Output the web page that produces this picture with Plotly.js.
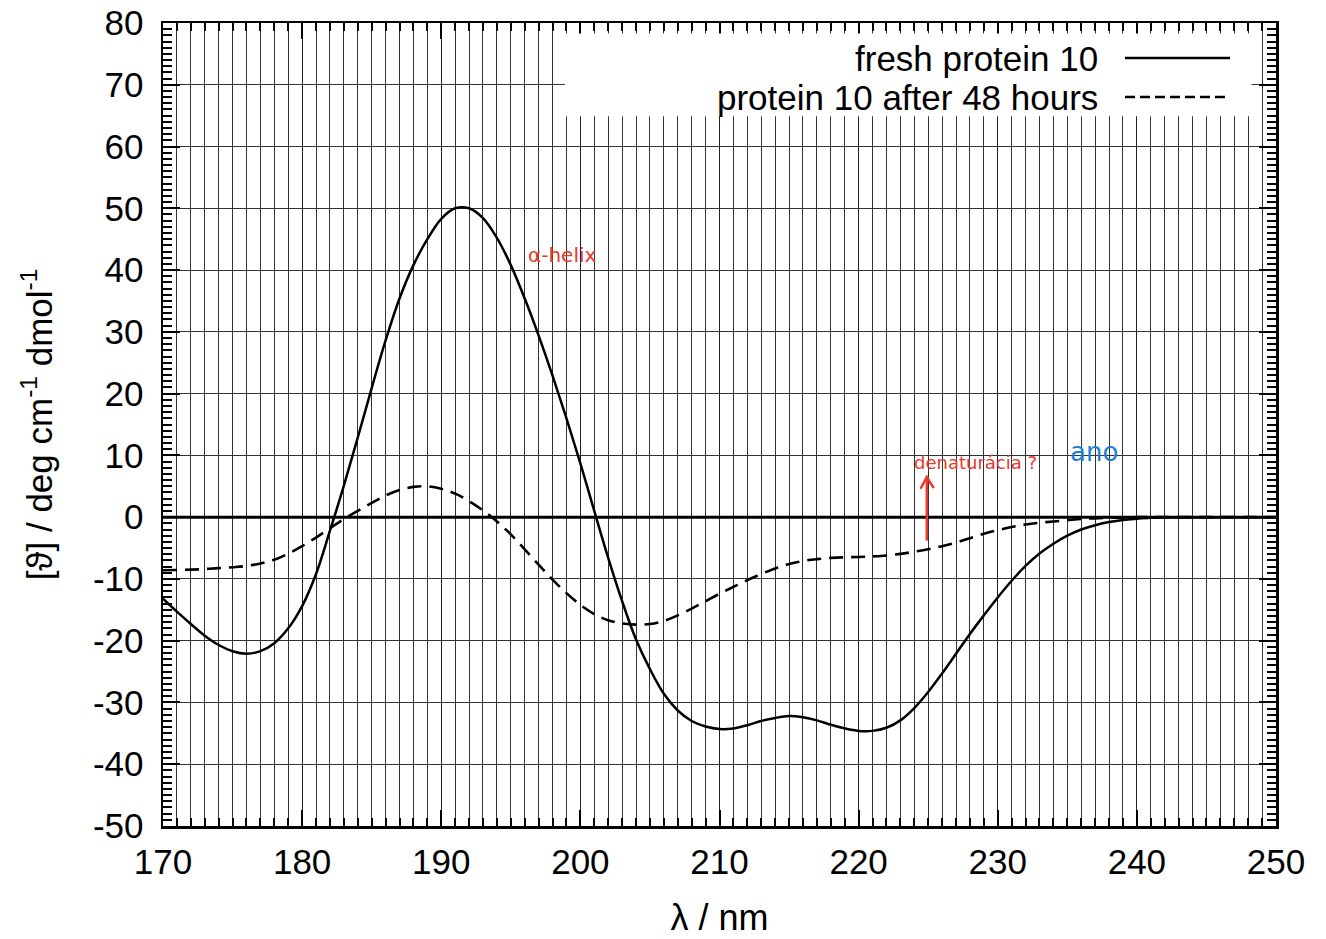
<!DOCTYPE html>
<html>
<head>
<meta charset="utf-8">
<script src="https://cdn.plot.ly/plotly-3.0.1.min.js"></script>
<style>html,body{margin:0;padding:0;background:#fff;}#chart{width:1326px;height:939px;}</style>
</head>
<body>
<div id="chart"></div>
<script>
// wavelength (nm)
const wavelength = [170,171,172,173,174,175,176,177,178,179,180,181,182,183,184,185,186,187,188,189,190,191,192,193,194,195,196,197,198,199,200,201,202,203,204,205,206,207,208,209,210,211,212,213,214,215,216,217,218,219,220,221,222,223,224,225,226,227,228,229,230,231,232,233,234,235,236,237,238,239,240,241,242,243,244,245,246,247,248,249,250];
// fresh protein 10
const freshProtein = [-13.2,-15.3,-17.3,-19.2,-20.7,-21.7,-22.1,-21.7,-20.4,-18.0,-14.4,-9.2,-2.2,5.1,12.9,20.9,28.6,35.4,40.8,45.0,48.3,50.0,50.0,48.4,45.2,40.8,35.4,29.4,22.9,16.0,8.7,1.0,-6.6,-13.6,-19.8,-24.6,-28.6,-31.3,-33.0,-33.9,-34.3,-34.2,-33.7,-33.0,-32.5,-32.2,-32.4,-32.9,-33.6,-34.2,-34.6,-34.6,-34.1,-32.9,-30.9,-28.3,-25.3,-22.1,-18.9,-15.9,-13.0,-10.3,-7.9,-5.9,-4.3,-3.0,-2.0,-1.3,-0.8,-0.45,-0.25,-0.1,-0.05,0,0,0,0,0,0,0,0];
// protein 10 after 48 hours
const agedProtein = [-8.6,-8.55,-8.5,-8.4,-8.25,-8.1,-7.9,-7.5,-6.9,-5.9,-4.7,-3.3,-1.8,-0.3,1.0,2.3,3.5,4.4,4.9,5.0,4.6,3.8,2.6,1.1,-0.7,-2.8,-5.2,-7.7,-10.1,-12.3,-14.2,-15.7,-16.7,-17.2,-17.4,-17.3,-16.8,-15.9,-14.8,-13.6,-12.4,-11.3,-10.2,-9.2,-8.3,-7.6,-7.1,-6.8,-6.6,-6.5,-6.45,-6.35,-6.2,-5.95,-5.6,-5.2,-4.7,-4.1,-3.4,-2.7,-2.1,-1.6,-1.2,-0.9,-0.7,-0.5,-0.3,-0.2,-0.1,-0.05,0,0,0,0,0,0,0,0,0,0,0];

const seriesNames = ["fresh protein 10", "protein 10 after 48 hours"];
const xTickVals = [170,180,190,200,210,220,230,240,250];
const yTickVals = [-50,-40,-30,-20,-10,0,10,20,30,40,50,60,70,80];

const FONT = "Liberation Sans, Arial, Helvetica, sans-serif";
const FS = 35;

const traces = [
  {x: wavelength, y: freshProtein, name: seriesNames[0], type: "scatter", mode: "lines",
   line: {color: "#000", width: 2.5, shape: "spline", smoothing: 1}, showlegend: false},
  {x: wavelength, y: agedProtein, name: seriesNames[1], type: "scatter", mode: "lines",
   line: {color: "#000", width: 2.6, dash: "14px,8px", shape: "spline", smoothing: 1}, showlegend: false}
];

const layout = {
  width: 1326, height: 939,
  margin: {l: 163, r: 50, t: 23, b: 113},
  paper_bgcolor: "#fff", plot_bgcolor: "#fff",
  font: {family: FONT, size: FS, color: "#000"},
  showlegend: false,
  xaxis: {
    range: [170, 250], tickvals: xTickVals, ticktext: xTickVals.map(String),
    ticks: "inside", ticklen: 16, tickwidth: 2, tickcolor: "#000",
    showline: true, linewidth: 2.5, linecolor: "#000", mirror: "allticks",
    showgrid: true, gridcolor: "#222", gridwidth: 1,
    zeroline: false, automargin: false, ticklabelstandoff: 3,
    tickfont: {family: FONT, size: FS, color: "#000"},
    minor: {dtick: 1, ticks: "inside", ticklen: 8, tickwidth: 2, tickcolor: "#000",
            showgrid: true, gridcolor: "#333", gridwidth: 1},
    title: {text: "λ / nm", font: {family: FONT, size: 36, color: "#000"}, standoff: 26}
  },
  yaxis: {
    range: [-50, 80], tickvals: yTickVals, ticktext: yTickVals.map(String),
    ticks: "inside", ticklen: 17, tickwidth: 2, tickcolor: "#000",
    showline: true, linewidth: 2.5, linecolor: "#000", mirror: "allticks",
    showgrid: true, gridcolor: "#333", gridwidth: 1,
    zeroline: false,
    automargin: false, ticklabelstandoff: 10,
    tickfont: {family: FONT, size: FS, color: "#000"},
    minor: {dtick: 1, ticks: "inside", ticklen: 9, tickwidth: 2, tickcolor: "#000", showgrid: false},
    title: {text: "[ϑ] / deg cm<sup>-1</sup> dmol<sup>-1</sup>", font: {family: FONT, size: 35, color: "#000"}, standoff: 30}
  },
  shapes: [
    // zero reference line
    {type: "line", xref: "x", yref: "y", x0: 170, x1: 250, y0: 0, y1: 0,
     line: {color: "#000", width: 3}, layer: "above"},
    // legend box
    {type: "rect", xref: "paper", yref: "paper", x0: 0.361, x1: 0.978, y0: 0.884, y1: 0.987,
     fillcolor: "#fff", line: {width: 0}, layer: "above"},
    {type: "line", xref: "paper", yref: "paper", x0: 0.8643, x1: 0.9587, y0: 0.9564, y1: 0.9564,
     line: {color: "#000", width: 2.5}, layer: "above"},
    {type: "line", xref: "paper", yref: "paper", x0: 0.8643, x1: 0.9587, y0: 0.9078, y1: 0.9078,
     line: {color: "#000", width: 2.5, dash: "10px,5px"}, layer: "above"},
    // red hand-drawn arrow
    {type: "line", xref: "x", yref: "y", x0: 224.9, x1: 224.9, y0: -3.8, y1: 6.4,
     line: {color: "#e8392b", width: 2.5}, layer: "above"},
    {type: "path", xref: "x", yref: "y", path: "M 224.45,4.6 L 224.9,6.5 L 225.4,4.7",
     line: {color: "#e8392b", width: 2.5}, layer: "above"}
  ],
  annotations: [
    {xref: "paper", yref: "paper", x: 0.8419, y: 0.9564, xanchor: "right", yanchor: "middle",
     text: seriesNames[0], showarrow: false, font: {family: FONT, size: FS, color: "#000"}},
    {xref: "paper", yref: "paper", x: 0.8419, y: 0.9078, xanchor: "right", yanchor: "middle",
     text: seriesNames[1], showarrow: false, font: {family: FONT, size: FS, color: "#000"}},
    {xref: "x", yref: "y", x: 198.7, y: 42.4, text: "α-helix", showarrow: false,
     font: {family: "DejaVu Sans", size: 20, color: "#e8392b"}},
    {xref: "x", yref: "y", x: 228.4, y: 8.9, text: "denaturácia ?", showarrow: false,
     font: {family: "DejaVu Sans", size: 18, color: "#e8392b"}},
    {xref: "x", yref: "y", x: 236.9, y: 10.5, text: "ano", showarrow: false,
     font: {family: "DejaVu Sans", size: 26, color: "#1e7fd6"}}
  ]
};

Plotly.newPlot("chart", traces, layout, {staticPlot: true, displayModeBar: false});
</script>
</body>
</html>
